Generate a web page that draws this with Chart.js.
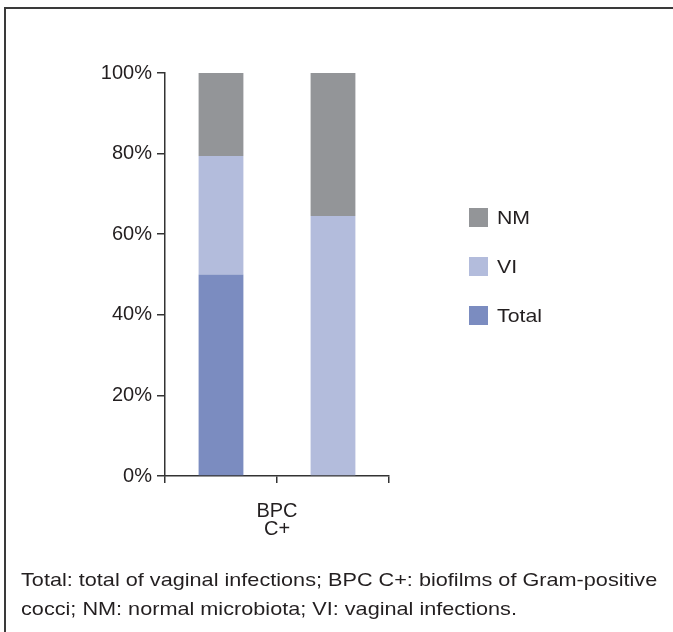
<!DOCTYPE html>
<html>
<head>
<meta charset="utf-8">
<script src="https://cdn.jsdelivr.net/npm/chart.js@4/dist/chart.umd.min.js"></script>
<style>
  html, body { margin: 0; padding: 0; background: #fff; }
  body { width: 673px; height: 632px; position: relative; overflow: hidden; font-family: "Liberation Sans", Arial, sans-serif; }
  #marco { position: absolute; left: 4px; top: 7px; width: 700px; height: 700px; border-left: 2px solid #3a3a3a; border-top: 2px solid #3a3a3a; }
  #grafica { position: absolute; left: 0; top: 0; }
  #nota { position: absolute; left: 21px; top: 565px; font-size: 19px; line-height: 29px; color: #231f20; white-space: nowrap; transform: scaleX(1.14); transform-origin: 0 0; }
</style>
</head>
<body>
<div id="marco"></div>
<canvas id="grafica" width="673" height="632"></canvas>
<div id="nota">Total: total of vaginal infections; BPC C+: biofilms of Gram-positive<br>cocci; NM: normal microbiota; VI: vaginal infections.</div>
<script>
// datos (dos barras apiladas dentro de BPC C+)
const barras = ["", ""];
const serieTotal = [50, 0];
const serieVI = [29.4, 64.5];
const serieNM = [20.6, 35.5];
const ticksY = [0, 20, 40, 60, 80, 100];
const tituloX = ["BPC", "C+"];

const colorTexto = "#231f20";
const fuente = "'Liberation Sans', Arial, sans-serif";

// leyenda dibujada a mano a la derecha (orden invertido: NM, VI, Total)
const leyenda = {
  id: "leyenda",
  afterDraw(chart) {
    const c = chart.ctx;
    const sets = chart.data.datasets.slice().reverse();
    c.save();
    c.font = "19px " + fuente;
    c.textBaseline = "middle";
    sets.forEach((ds, i) => {
      let y = 208 + i * 49;
      c.fillStyle = ds.backgroundColor;
      c.fillRect(469, y, 19, 19);
      c.fillStyle = colorTexto;
      c.save();
      c.translate(497, y + 11);
      c.scale(1.12, 1);
      c.fillText(ds.label, 0, 0);
      c.restore();
    });
    c.restore();
  }
};

let ctx = document.getElementById("grafica").getContext("2d");
let grafica = new Chart(ctx, {
  type: "bar",
  data: {
    labels: barras,
    datasets: [
      { label: "Total", data: serieTotal, backgroundColor: "#7b8cc0" },
      { label: "VI", data: serieVI, backgroundColor: "#b3bcdc" },
      { label: "NM", data: serieNM, backgroundColor: "#939598" }
    ]
  },
  options: {
    responsive: false,
    animation: false,
    barPercentage: 0.8,
    categoryPercentage: 0.5,
    layout: { padding: { left: 65, right: 284, top: 73, bottom: 76 } },
    plugins: { legend: { display: false }, tooltip: { enabled: false } },
    scales: {
      x: {
        stacked: true,
        afterFit: s => { s.height = 80; },
        grid: { offset: true, drawOnChartArea: false, drawTicks: true, tickLength: 7, color: "#333", lineWidth: 1.5 },
        border: { display: true, color: "#333", width: 1.5 },
        ticks: { display: false },
        title: {
          display: true, text: tituloX, color: colorTexto,
          font: { family: fuente, size: 20, lineHeight: "18px" },
          padding: { top: 0, bottom: 18 }
        }
      },
      y: {
        stacked: true,
        min: 0, max: 100,
        afterFit: s => { s.width = 100; },
        afterBuildTicks: s => { s.ticks = ticksY.map(v => ({ value: v })); },
        grid: { drawOnChartArea: false, drawTicks: true, tickLength: 8, color: "#333", lineWidth: 1.5 },
        border: { display: true, color: "#333", width: 1.5 },
        ticks: { color: colorTexto, padding: 5, font: { family: fuente, size: 20 }, callback: v => v + "%" }
      }
    }
  },
  plugins: [leyenda]
});
</script>
</body>
</html>
